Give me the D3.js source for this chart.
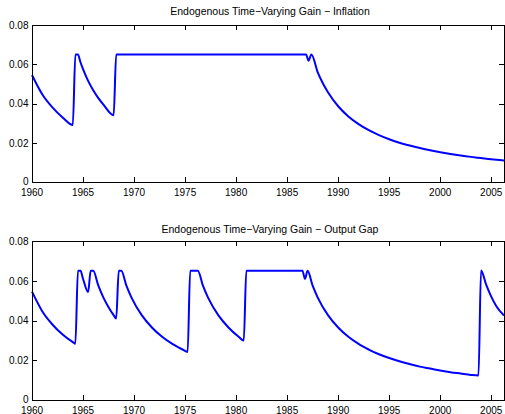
<!DOCTYPE html>
<html><head><meta charset="utf-8">
<script src="https://cdn.jsdelivr.net/npm/d3@7"></script>
<style>body{margin:0;background:#fff}svg{display:block}text{font-family:"Liberation Sans",Arial,Helvetica,sans-serif;fill:#000}</style>
</head><body><svg id="c" width="505" height="414"></svg>
<script>
const titles = ["Endogenous Time\u2212Varying Gain \u2212 Inflation", "Endogenous Time\u2212Varying Gain \u2212 Output Gap"];
const xTicks = [1960,1965,1970,1975,1980,1985,1990,1995,2000,2005];
const yTicks = [0,0.02,0.04,0.06,0.08];
const yTickLabels = ["0","0.02","0.04","0.06","0.08"];

const inflationYears = [1960,1961,1962,1963,1964,1964.25,1964.5,1964.75,1965,1965.5,1966,1966.5,1967,1968,1968.25,1986.85,1987.1,1987.375,1988,1988.5,1989,1990,1991,1992,1993,1994,1995,1996,1997,1998,1999,2000,2001,2002,2003,2004,2005,2006.25];
const inflationGain = [0.0545,0.0447,0.0380,0.0329,0.0291,0.065,0.065,0.0610,0.0575,0.0515,0.0467,0.0427,0.0394,0.0340,0.065,0.065,0.0618,0.065,0.0559,0.0503,0.0457,0.0386,0.0334,0.0295,0.0264,0.0239,0.0218,0.0200,0.0186,0.0173,0.0162,0.0152,0.0143,0.0135,0.0128,0.0122,0.0116,0.0110];

const gapYears = [1960,1961,1962,1963,1964,1964.25,1964.5,1964.75,1965,1965.5,1965.75,1966,1966.5,1967,1967.5,1968,1968.25,1968.5,1968.75,1969.25,1969.75,1970.75,1971.75,1972.75,1973.75,1974.75,1975.25,1975.5,1976.25,1976.75,1977.25,1978.25,1979.25,1980.25,1980.75,1981,1986.5,1986.75,1987,1987.5,1988,1989,1990,1991,1992,1993,1994,1995,1996,1997,1998,1999,2000,2001,2002,2003,2003.75,2004,2004.5,2005,2005.5,2006.25];
const gapGain = [0.0545,0.0447,0.0380,0.0329,0.0291,0.0283,0.065,0.065,0.0610,0.0543,0.065,0.065,0.0575,0.0515,0.0467,0.0427,0.0410,0.065,0.065,0.0575,0.0515,0.0427,0.0365,0.0318,0.0282,0.0254,0.0242,0.065,0.065,0.0575,0.0515,0.0427,0.0365,0.0318,0.0299,0.065,0.065,0.0609,0.065,0.0575,0.0515,0.0427,0.0365,0.0318,0.0282,0.0254,0.0230,0.0211,0.0195,0.0181,0.0168,0.0158,0.0148,0.0140,0.0133,0.0126,0.0123,0.0652,0.0580,0.0520,0.0472,0.0425];

const panels = [
  {title: titles[0], years: inflationYears, vals: inflationGain, top: 25, bottom: 182, titleY: 15},
  {title: titles[1], years: gapYears, vals: gapGain, top: 241, bottom: 400, titleY: 233}
];
const svg = d3.select("#c");
const left = 32, right = 504;
const x = d3.scaleLinear().domain([1960, 2006.25]).range([left, right]);
const tl = 5;

panels.forEach(p => {
  const y = d3.scaleLinear().domain([0, 0.08]).range([p.bottom, p.top]);
  const g = svg.append("g");
  const data = p.years.map((yr, i) => [yr, p.vals[i]]);
  g.append("path").datum(data)
    .attr("d", d3.line().x(d => x(d[0])).y(d => y(d[1])).curve(d3.curveMonotoneX))
    .attr("fill", "none").attr("stroke", "#0000ff").attr("stroke-width", 2).attr("stroke-linejoin", "round");
  g.append("rect").attr("x", left).attr("y", p.top).attr("width", right - left).attr("height", p.bottom - p.top)
    .attr("fill", "none").attr("stroke", "#000").attr("stroke-width", 1).attr("shape-rendering", "crispEdges");
  xTicks.forEach(t => {
    const xx = Math.round(x(t)) + 0.5;
    g.append("line").attr("x1", xx).attr("x2", xx).attr("y1", p.bottom).attr("y2", p.bottom - tl).attr("stroke", "#000");
    g.append("line").attr("x1", xx).attr("x2", xx).attr("y1", p.top).attr("y2", p.top + tl).attr("stroke", "#000");
    g.append("text").attr("x", x(t)).attr("y", p.bottom + 13.5).attr("text-anchor", "middle").attr("font-size", "10px").text(t);
  });
  yTicks.forEach((t, i) => {
    const yy = Math.round(y(t)) + 0.5;
    g.append("line").attr("x1", left).attr("x2", left + tl).attr("y1", yy).attr("y2", yy).attr("stroke", "#000");
    g.append("line").attr("x1", right).attr("x2", right - tl).attr("y1", yy).attr("y2", yy).attr("stroke", "#000");
    g.append("text").attr("x", 28.5).attr("y", y(t) + (t === 0 ? 3 : 3.8)).attr("text-anchor", "end").attr("font-size", "10px").text(yTickLabels[i]);
  });
  g.append("text").attr("x", (left + right) / 2 + 2).attr("y", p.titleY).attr("text-anchor", "middle").attr("font-size", "10.5px").text(p.title);
});
</script></body></html>
